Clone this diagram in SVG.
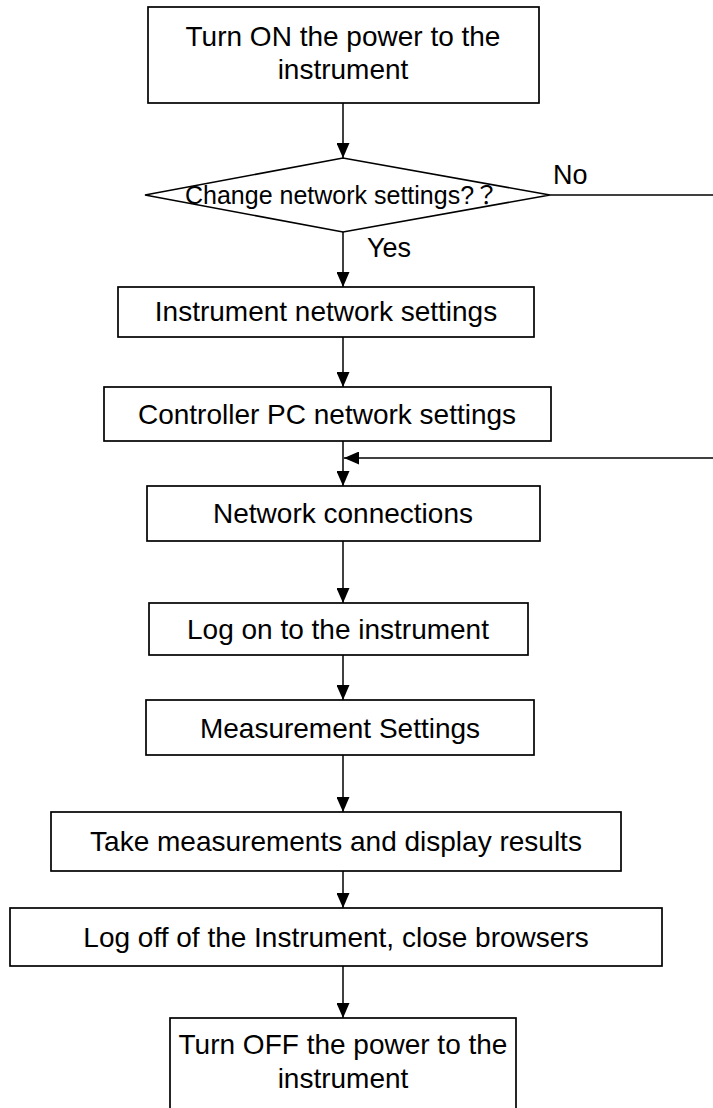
<svg xmlns="http://www.w3.org/2000/svg" width="713" height="1108" viewBox="0 0 713 1108">
<style>
.box{fill:#fff;stroke:#000;stroke-width:1.7}
.ln{fill:none;stroke:#000;stroke-width:1.5}
.t{font-family:"Liberation Sans",Arial,"Noto Sans CJK JP",sans-serif;font-size:28px;fill:#000;text-anchor:middle}
.d{font-family:"Liberation Sans",Arial,"Noto Sans CJK JP",sans-serif;font-size:25px;fill:#000}
.lbl{font-family:"Liberation Sans",Arial,sans-serif;font-size:27px;fill:#000}
</style>
<defs>
<marker id="ah" viewBox="0 0 15 13" refX="15" refY="6.5" markerWidth="15" markerHeight="13" markerUnits="userSpaceOnUse" orient="auto">
<path d="M0,0 L15,6.5 L0,13 z" fill="#000"/>
</marker>
</defs>
<rect width="713" height="1108" fill="#fff"/>
<g id="connectors">
<line class="ln" x1="343" y1="103" x2="343" y2="158" marker-end="url(#ah)"/>
<line class="ln" x1="550" y1="195" x2="713" y2="195"/>
<line class="ln" x1="343" y1="232" x2="343" y2="287" marker-end="url(#ah)"/>
<line class="ln" x1="343" y1="337" x2="343" y2="387" marker-end="url(#ah)"/>
<line class="ln" x1="343" y1="441" x2="343" y2="486" marker-end="url(#ah)"/>
<line class="ln" x1="713" y1="458" x2="344" y2="458" marker-end="url(#ah)"/>
<line class="ln" x1="343" y1="541" x2="343" y2="603" marker-end="url(#ah)"/>
<line class="ln" x1="343" y1="655" x2="343" y2="700" marker-end="url(#ah)"/>
<line class="ln" x1="343" y1="755" x2="343" y2="812" marker-end="url(#ah)"/>
<line class="ln" x1="343" y1="871" x2="343" y2="908" marker-end="url(#ah)"/>
<line class="ln" x1="343" y1="966" x2="343" y2="1018" marker-end="url(#ah)"/>
<text class="lbl" x="553" y="184">No</text>
<text class="lbl" x="367" y="257">Yes</text>
</g>
<g id="n1">
<rect class="box" x="148" y="7" width="391" height="96"/>
<text class="t" x="343" y="46">Turn ON the power to the</text>
<text class="t" x="343" y="79">instrument</text>
</g>
<g id="n2">
<polygon class="box" points="145,195 343,158 550,195 343,232"/>
<text class="d" x="185" y="204">Change network settings?？</text>
</g>
<g id="n3">
<rect class="box" x="118" y="287" width="416" height="50"/>
<text class="t" x="326" y="321">Instrument network settings</text>
</g>
<g id="n4">
<rect class="box" x="104" y="387" width="447" height="54"/>
<text class="t" x="327" y="424">Controller PC network settings</text>
</g>
<g id="n5">
<rect class="box" x="147" y="486" width="393" height="55"/>
<text class="t" x="343" y="523">Network connections</text>
</g>
<g id="n6">
<rect class="box" x="149" y="603" width="379" height="52"/>
<text class="t" x="338" y="639">Log on to the instrument</text>
</g>
<g id="n7">
<rect class="box" x="146" y="700" width="388" height="55"/>
<text class="t" x="340" y="738">Measurement Settings</text>
</g>
<g id="n8">
<rect class="box" x="51" y="812" width="570" height="59"/>
<text class="t" x="336" y="851">Take measurements and display results</text>
</g>
<g id="n9">
<rect class="box" x="10" y="908" width="652" height="58"/>
<text class="t" x="336" y="947">Log off of the Instrument, close browsers</text>
</g>
<g id="n10">
<rect class="box" x="170" y="1018" width="346" height="100"/>
<text class="t" x="343" y="1054">Turn OFF the power to the</text>
<text class="t" x="343" y="1088">instrument</text>
</g>
</svg>
